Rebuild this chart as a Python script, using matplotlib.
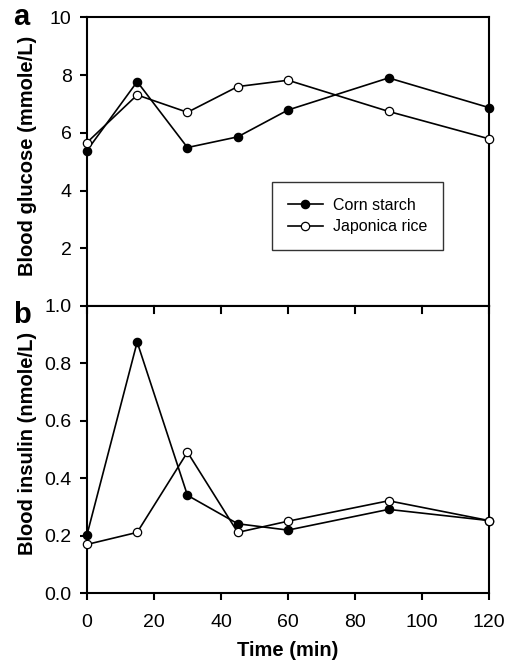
"""Blood glucose and insulin response: corn starch vs japonica rice."""

import matplotlib

matplotlib.use("Agg")
import matplotlib.pyplot as plt

plt.rcParams["font.family"] = ["Liberation Sans", "DejaVu Sans"]

time_min = [0, 15, 30, 45, 60, 90, 120]
glucose_corn = [5.38, 7.77, 5.49, 5.86, 6.79, 7.90, 6.87]
glucose_rice = [5.66, 7.31, 6.71, 7.60, 7.82, 6.74, 5.79]
insulin_corn = [0.202, 0.874, 0.341, 0.242, 0.220, 0.292, 0.253]
insulin_rice = [0.170, 0.212, 0.491, 0.212, 0.251, 0.322, 0.253]
series_names = ["Corn starch", "Japonica rice"]

glucose_ticks = [2, 4, 6, 8, 10]
insulin_ticks = [0.0, 0.2, 0.4, 0.6, 0.8, 1.0]
x_ticks = [0, 20, 40, 60, 80, 100, 120]

fig = plt.figure(figsize=(5.08, 6.64), dpi=100)
ax_a = fig.add_axes([0.171, 0.539, 0.792, 0.435])
ax_b = fig.add_axes([0.171, 0.1064, 0.792, 0.433])

line_kw = dict(color="black", linewidth=1.2, markersize=6.0, clip_on=False,
               markeredgewidth=0.9, markeredgecolor="black")

for ax, corn, rice in ((ax_a, glucose_corn, glucose_rice),
                       (ax_b, insulin_corn, insulin_rice)):
    ax.plot(time_min, corn, marker="o", markerfacecolor="black",
            label=series_names[0], zorder=3, **line_kw)
    ax.plot(time_min, rice, marker="o", markerfacecolor="white",
            label=series_names[1], zorder=4, **line_kw)
    ax.set_xlim(0, 120)
    for spine in ax.spines.values():
        spine.set_linewidth(1.5)
    ax.tick_params(axis="y", direction="out", length=5, width=1.5,
                   labelsize=14, pad=6)

ax_a.set_ylim(0, 10)
ax_a.set_yticks(glucose_ticks)
ax_a.set_yticklabels([str(t) for t in glucose_ticks])
ax_a.set_xticks([])
ax_a.set_ylabel("Blood glucose (mmole/L)", fontsize=14.5, fontweight="bold")
ax_a.yaxis.set_label_coords(-0.124, 0.52)

ax_b.set_ylim(0, 1.0)
ax_b.set_yticks(insulin_ticks)
ax_b.set_yticklabels([f"{t:.1f}" for t in insulin_ticks])
ax_b.set_xticks(x_ticks)
ax_b.tick_params(axis="x", direction="out", length=5, width=1.5,
                 labelsize=14, pad=10)
ax_b.set_xlabel("Time (min)", fontsize=14.5, fontweight="bold", labelpad=7)
ax_b.set_ylabel("Blood insulin (nmole/L)", fontsize=14.5, fontweight="bold")
ax_b.yaxis.set_label_coords(-0.124, 0.52)

# inward ticks along the shared boundary
for t in x_ticks:
    ax_b.plot([t, t], [1.0, 0.975], color="black", linewidth=1.5,
              clip_on=False, zorder=5)

legend = ax_a.legend(loc="upper left", bbox_to_anchor=(0.46, 0.43),
                     fontsize=11.5, frameon=True, fancybox=False,
                     edgecolor="black", handlelength=2.2, borderpad=1.0,
                     labelspacing=0.4, handletextpad=0.6, borderaxespad=0)
legend.get_frame().set_linewidth(1.0)

fig.text(0.026, 0.962, "a", fontsize=21, fontweight="bold")
fig.text(0.026, 0.514, "b", fontsize=21, fontweight="bold")

fig.savefig("out.png", dpi=100)
plt.close(fig)
